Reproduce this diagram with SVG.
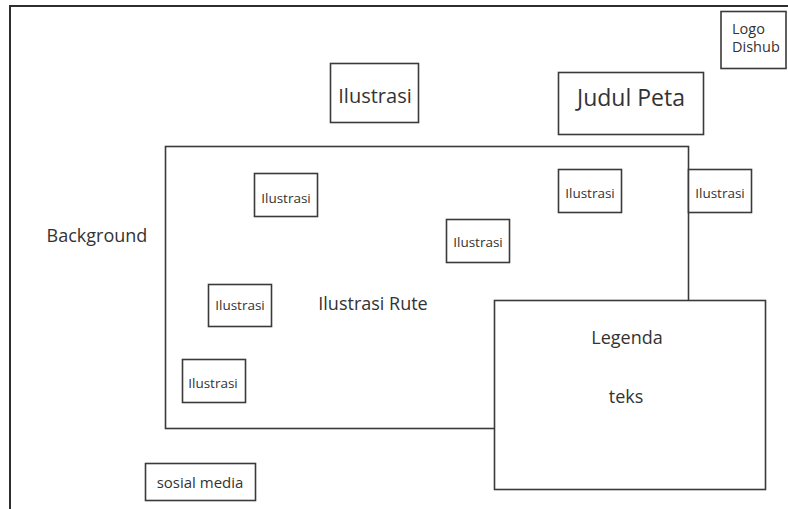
<svg xmlns="http://www.w3.org/2000/svg" width="788" height="509" viewBox="0 0 788 509">
<style>
.box{fill:#fff;stroke:#3a3a3a;stroke-width:1.6}
.frame{fill:none;stroke:#2e2e2e;stroke-width:2}
text{font-family:"Open Sans","Noto Sans",sans-serif;fill:#333;text-anchor:middle}
.s{font-size:13.5px}
.m{font-size:18px}
</style>
<rect width="788" height="509" fill="#fff"/>
<path class="frame" d="M10 509 V6 H788"/>
<g id="logo"><rect class="box" x="721" y="11.5" width="65" height="57"/><text x="732" y="34" font-size="14.5" style="text-anchor:start">Logo</text><text x="732" y="52" font-size="14.5" style="text-anchor:start">Dishub</text></g>
<g id="ilustrasi-top"><rect class="box" x="330.5" y="63.5" width="88" height="59"/><text x="375" y="103" font-size="20">Ilustrasi</text></g>
<g id="judul"><rect class="box" x="558.5" y="72.5" width="145" height="62"/><text x="631" y="106" font-size="23">Judul Peta</text></g>
<g id="peta"><rect class="box" x="165.5" y="146.5" width="523" height="282"/><text class="m" x="373" y="310">Ilustrasi Rute</text></g>
<g id="ilustrasi-1"><rect class="box" x="254.5" y="173.5" width="63" height="43"/><text class="s" x="286" y="203">Ilustrasi</text></g>
<g id="ilustrasi-2"><rect class="box" x="446.5" y="219.5" width="63" height="43"/><text class="s" x="478" y="247">Ilustrasi</text></g>
<g id="ilustrasi-3"><rect class="box" x="558.5" y="169.5" width="63" height="43"/><text class="s" x="590" y="198">Ilustrasi</text></g>
<g id="ilustrasi-4"><rect class="box" x="688.5" y="169.5" width="63" height="43"/><text class="s" x="720" y="198">Ilustrasi</text></g>
<g id="ilustrasi-5"><rect class="box" x="208.5" y="284.5" width="63" height="42"/><text class="s" x="240" y="310">Ilustrasi</text></g>
<g id="ilustrasi-6"><rect class="box" x="182.5" y="359.5" width="63" height="43"/><text class="s" x="213" y="388">Ilustrasi</text></g>
<g id="background"><text class="m" x="97" y="242">Background</text></g>
<g id="legenda"><rect class="box" x="494.5" y="300.5" width="271" height="189"/><text class="m" x="627" y="344">Legenda</text><text class="m" x="626" y="403">teks</text></g>
<g id="sosial"><rect class="box" x="145.5" y="463.5" width="110" height="37"/><text x="200" y="488" font-size="15">sosial media</text></g>
<g id="connectors"/>
</svg>
